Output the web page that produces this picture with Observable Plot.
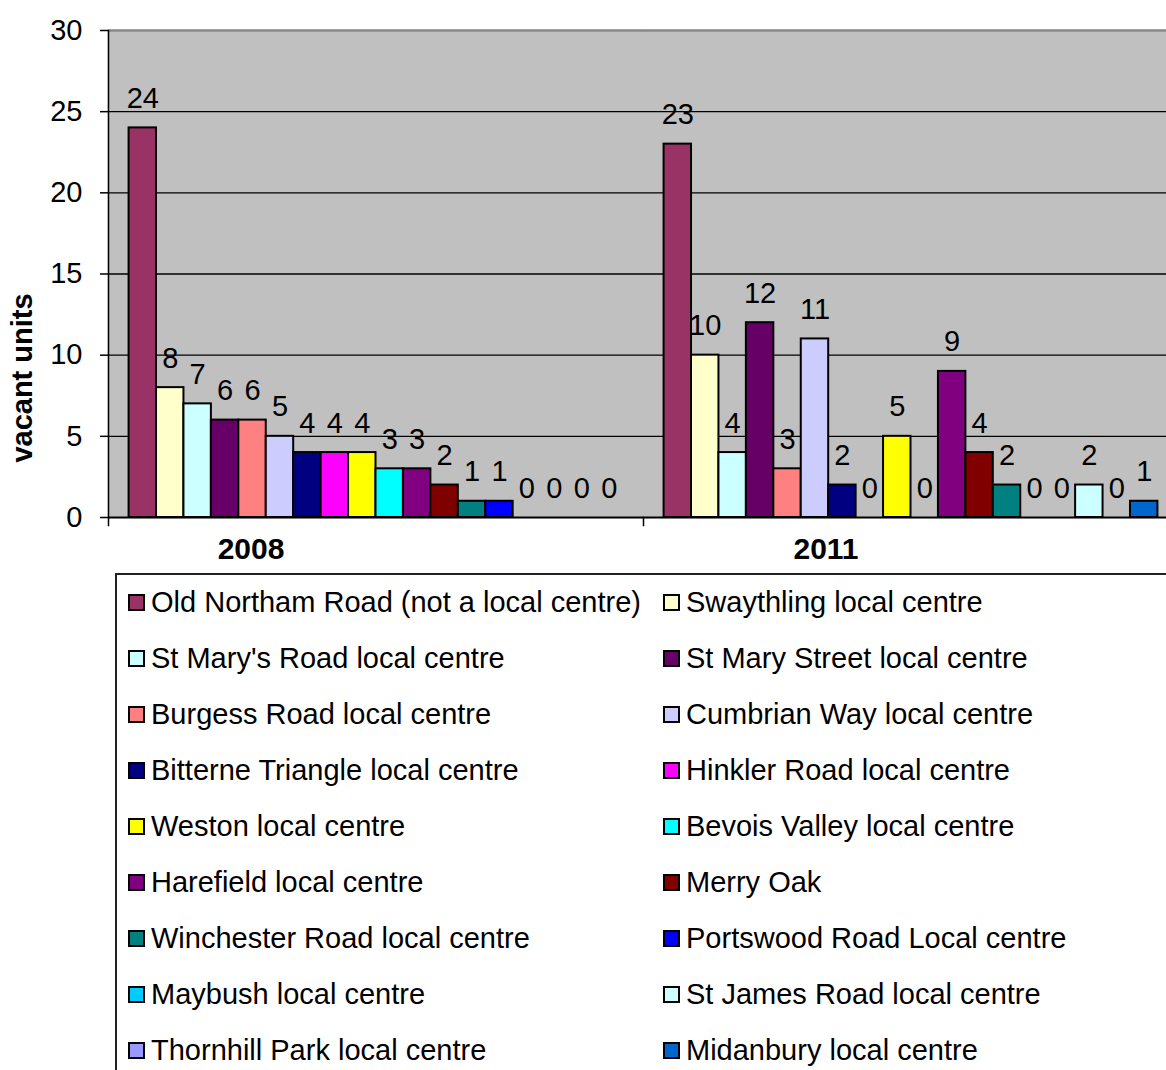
<!DOCTYPE html>
<html>
<head>
<meta charset="utf-8">
<script src="https://cdn.jsdelivr.net/npm/d3@7"></script>
<script src="https://cdn.jsdelivr.net/npm/@observablehq/plot@0.6"></script>
<style>
  html, body { margin: 0; padding: 0; background: #fff; overflow: hidden; }
  #wrap { width: 1166px; overflow: hidden; font-family: "Liberation Sans", Arial, sans-serif; }
  #chart { width: 1166px; height: 573px; overflow: hidden; }
  #chart svg { max-width: none !important; width: 1178px; height: 573px; display: block; }
  #legend {
    margin-left: 115px; width: 1100px; height: 520px;
    border-left: 2px solid #222; border-top: 2px solid #222;
    box-sizing: border-box; padding-top: 0;
    display: grid; grid-template-columns: 535px 1fr; grid-auto-rows: 56px;
  }
  .item { display: flex; align-items: center; padding-left: 11px; font-size: 29px; color: #000; white-space: nowrap; position: relative; top: -1px; }
  .sw { width: 13px; height: 13px; border: 2px solid #000; margin-right: 6px; flex: none; }
</style>
</head>
<body>
<div id="wrap">
  <div id="chart"></div>
  <div id="legend"></div>
</div>
<script>
const categories = [
  "Old Northam Road (not a local centre)",
  "Swaythling local centre",
  "St Mary's Road local centre",
  "St Mary Street local centre",
  "Burgess Road local centre",
  "Cumbrian Way local centre",
  "Bitterne Triangle local centre",
  "Hinkler Road local centre",
  "Weston local centre",
  "Bevois Valley local centre",
  "Harefield local centre",
  "Merry Oak",
  "Winchester Road local centre",
  "Portswood Road Local centre",
  "Maybush local centre",
  "St James Road local centre",
  "Thornhill Park local centre",
  "Midanbury local centre"
];
const years = ["2008", "2011"];
const values2008 = [24, 8, 7, 6, 6, 5, 4, 4, 4, 3, 3, 2, 1, 1, 0, 0, 0, 0];
const values2011 = [23, 10, 4, 12, 3, 11, 2, 0, 5, 0, 9, 4, 2, 0, 0, 2, 0, 1];
const colors = [
  "#993366", "#FFFFCC", "#CCFFFF", "#660066", "#FF8080", "#CCCCFF",
  "#000080", "#FF00FF", "#FFFF00", "#00FFFF", "#800080", "#800000",
  "#008080", "#0000FF", "#00CCFF", "#CCFFFF", "#9999FF", "#0066CC"
];
const yTicks = [0, 5, 10, 15, 20, 25, 30];
const yLabel = "vacant units";

const data = [];
categories.forEach((c, i) => data.push({year: years[0], centre: c, value: values2008[i]}));
categories.forEach((c, i) => data.push({year: years[1], centre: c, value: values2011[i]}));

const font = "'Liberation Sans', Arial, sans-serif";

const chart = Plot.plot({
  width: 1178,
  height: 573,
  marginLeft: 108,
  marginRight: 0,
  marginTop: 30,
  marginBottom: 56,
  style: {fontFamily: font, fontSize: "29px", color: "#000", background: "transparent", overflow: "visible", maxWidth: "none"},
  fx: {domain: years, padding: 0, round: false, axis: null},
  x: {domain: categories, paddingInner: 0, paddingOuter: 0.75, round: false, axis: null},
  y: {domain: [0, 30], axis: null},
  color: {domain: categories, range: colors},
  marks: [
    Plot.frame({fill: "#c0c0c0", stroke: "#c0c0c0", strokeWidth: 1.5}),
    Plot.ruleY(yTicks.filter(t => t > 0 && t < 30), {stroke: "#000", strokeWidth: 1.3}),
    Plot.ruleY([30], {stroke: "#8a8a8a", strokeWidth: 2.5}),
    Plot.barY(data, {fx: "year", x: "centre", y: "value", fill: "centre", stroke: "#000", strokeWidth: 2}),
    Plot.ruleY([0], {stroke: "#000", strokeWidth: 2}),
    Plot.text(data, {fx: "year", x: "centre", y: "value", text: d => String(d.value), lineAnchor: "bottom", dy: -20, fontSize: 29, fill: "#000"}),
    Plot.axisY({ticks: yTicks, tickSize: 8, tickPadding: 18, label: null, fontSize: 29, stroke: "#000", strokeWidth: 1.5}),
    Plot.frame({anchor: "left", facetAnchor: "left", stroke: "#000", strokeWidth: 1.5, insetBottom: -8}),
    Plot.frame({anchor: "left", facetAnchor: "right", stroke: "#000", strokeWidth: 1.5, insetTop: 487, insetBottom: -8}),
    Plot.text([yLabel], {frameAnchor: "left", facetAnchor: "left", text: d => d, rotate: -90, textAnchor: "middle", dx: -86, dy: 104, fontWeight: "bold", fontSize: 29, fill: "#000"}),
    Plot.text([years[0]], {fx: d => d, frameAnchor: "bottom", text: d => d, dx: -125, dy: 41, fontWeight: "bold", fontSize: 30, fill: "#000"}),
    Plot.text([years[1]], {fx: d => d, frameAnchor: "bottom", text: d => d, dx: -85, dy: 41, fontWeight: "bold", fontSize: 30, fill: "#000"})
  ]
});
document.getElementById("chart").appendChild(chart);

const legend = document.getElementById("legend");
categories.forEach((c, i) => {
  const item = document.createElement("div");
  item.className = "item";
  const sw = document.createElement("span");
  sw.className = "sw";
  sw.style.background = colors[i];
  item.appendChild(sw);
  item.appendChild(document.createTextNode(c));
  legend.appendChild(item);
});
</script>
</body>
</html>
